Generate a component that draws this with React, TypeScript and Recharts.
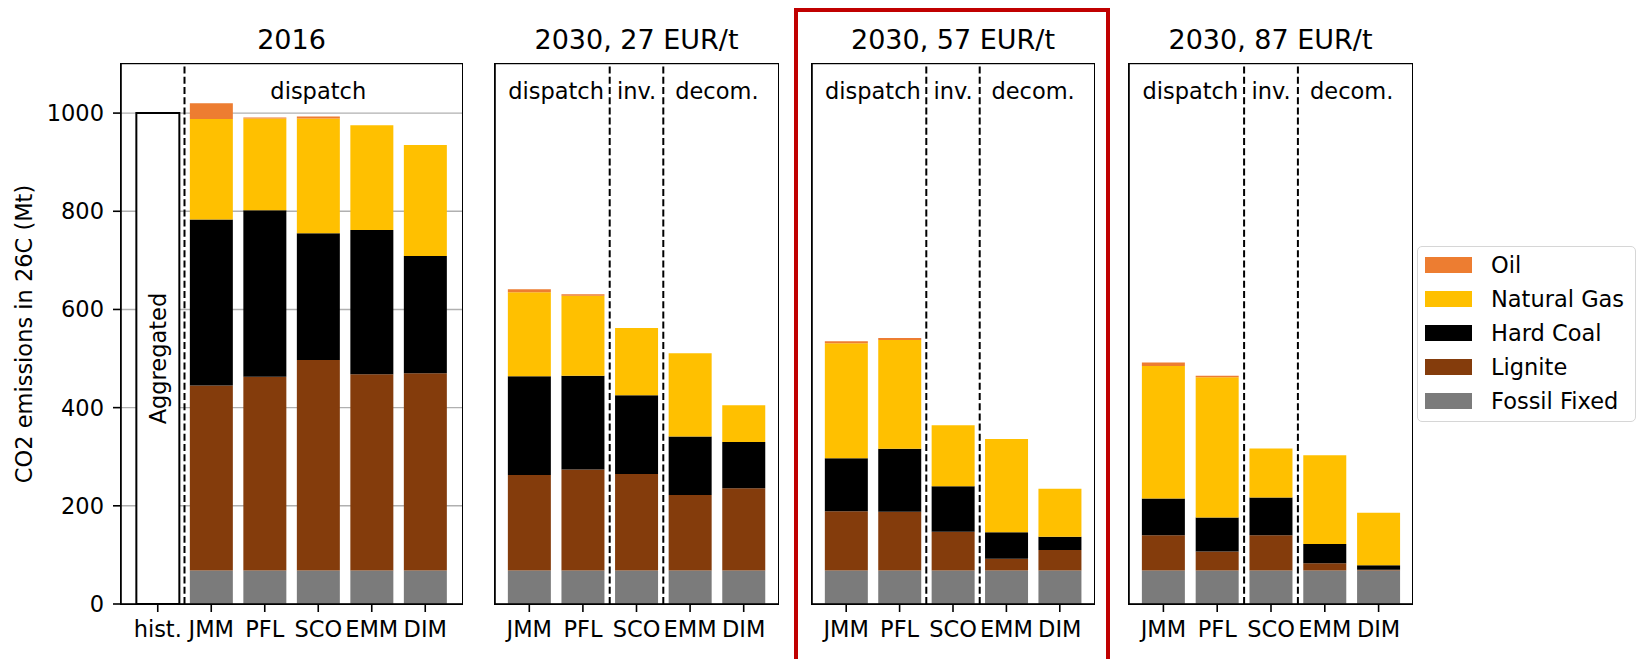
import React from 'react';
import { BarChart, Bar, XAxis, YAxis, CartesianGrid, ReferenceLine, ReferenceArea } from 'recharts';

// ---------- data ----------
const models = ['JMM', 'PFL', 'SCO', 'EMM', 'DIM'];
const histLabel = 'hist.';
const histTotal = 1000;
const histText = 'Aggregated';
const yTicks = [0, 200, 400, 600, 800, 1000];
const panelTitles = ['2016', '2030, 27 EUR/t', '2030, 57 EUR/t', '2030, 87 EUR/t'];
const groupLabels = ['dispatch', 'inv.', 'decom.'];
const yLabel = 'CO2 emissions in 26C (Mt)';

// 2016
const fixed2016 = [68, 68, 68, 68, 68];
const lignite2016 = [377, 395, 429, 400, 402];
const coal2016 = [338, 339, 258, 294, 239];
const gas2016 = [205, 187, 234, 213, 226];
const oil2016 = [32, 2, 4, 0, 0];

// 2030, 27 EUR/t
const fixed27 = [68, 68, 68, 68, 68];
const lignite27 = [195, 206, 197, 154, 168];
const coal27 = [201, 191, 160, 119, 94];
const gas27 = [171, 163, 137, 170, 75];
const oil27 = [6, 3, 0, 0, 0];

// 2030, 57 EUR/t
const fixed57 = [68, 68, 68, 68, 68];
const lignite57 = [121, 120, 79, 24, 42];
const coal57 = [108, 128, 93, 54, 27];
const gas57 = [234, 222, 124, 190, 98];
const oil57 = [4, 4, 0, 0, 0];

// 2030, 87 EUR/t
const fixed87 = [68, 68, 68, 68, 68];
const lignite87 = [72, 39, 72, 15, 2];
const coal87 = [75, 69, 77, 39, 9];
const gas87 = [270, 286, 100, 181, 107];
const oil87 = [7, 3, 0, 0, 0];

// series (bottom to top)
const seriesKeys = ['fixed', 'lignite', 'coal', 'gas', 'oil'];
const seriesNames = ['Fossil Fixed', 'Lignite', 'Hard Coal', 'Natural Gas', 'Oil'];
const seriesColors = ['#7b7b7b', '#843c0c', '#000000', '#ffc000', '#ed7d31'];

// ---------- styling ----------
const FONT = "'DejaVu Sans', sans-serif";
const FS = 22.5;
const LW = 1.6;
const H = 659;
const PLOT_TOP = 64;
const PLOT_BOTTOM = 604;

function buildRows(fixed: number[], lignite: number[], coal: number[], gas: number[], oil: number[]) {
  return models.map((m, i) => ({
    name: m,
    fixed: fixed[i],
    lignite: lignite[i],
    coal: coal[i],
    gas: gas[i],
    oil: oil[i],
  }));
}

const data2016 = [{ name: histLabel, hist: histTotal }, ...buildRows(fixed2016, lignite2016, coal2016, gas2016, oil2016)];
const data27 = buildRows(fixed27, lignite27, coal27, gas27, oil27);
const data57 = buildRows(fixed57, lignite57, coal57, gas57, oil57);
const data87 = buildRows(fixed87, lignite87, coal87, gas87, oil87);

type Group = { x1: string; x2: string; text: string };

const groups2016: Group[] = [{ x1: models[0], x2: models[4], text: groupLabels[0] }];
const groups2030: Group[] = [
  { x1: models[0], x2: models[1], text: groupLabels[0] },
  { x1: models[2], x2: models[2], text: groupLabels[1] },
  { x1: models[3], x2: models[4], text: groupLabels[2] },
];

const renderAggregated = (p: any) => {
  if (p.index !== 0 || p.height == null || p.height <= 0) return null;
  const cx = p.x + p.width / 2;
  const cy = p.y + p.height / 2;
  return (
    <text
      key="agg"
      x={cx}
      y={cy}
      transform={`rotate(-90 ${cx} ${cy})`}
      textAnchor="middle"
      dominantBaseline="central"
      fontSize={FS}
      fontFamily={FONT}
      fill="#000"
    >
      {histText}
    </text>
  );
};

type PanelProps = {
  data: any[];
  left: number;
  width: number;
  yAxisWidth: number;
  showYTicks: boolean;
  pad: number;
  groups: Group[];
  dividers: string[];
  withHist: boolean;
};

function Panel(p: PanelProps) {
  const axisLine = { stroke: '#000', strokeWidth: LW };
  return (
    <div style={{ position: 'absolute', left: p.left, top: 0 }}>
      <BarChart
        width={p.width}
        height={H}
        data={p.data}
        margin={{ top: PLOT_TOP, right: 3, bottom: 0, left: 0 }}
        barCategoryGap="10%"
      >
        <CartesianGrid horizontal vertical={false} stroke="#b0b0b0" strokeWidth={1.4} />
        <XAxis
          dataKey="name"
          interval={0}
          height={H - PLOT_BOTTOM}
          padding={{ left: p.pad, right: p.pad }}
          tickSize={8}
          tickMargin={9}
          tick={{ fontSize: FS, fill: '#000', fontFamily: FONT }}
          tickLine={{ stroke: '#000', strokeWidth: LW }}
          axisLine={axisLine}
        />
        <YAxis
          type="number"
          domain={[0, 1100]}
          ticks={yTicks}
          allowDataOverflow
          width={p.yAxisWidth}
          tickSize={8}
          tickMargin={9}
          tick={p.showYTicks ? { fontSize: FS, fill: '#000', fontFamily: FONT } : false}
          tickLine={{ stroke: '#000', strokeWidth: LW }}
          axisLine={axisLine}
        />
        {p.withHist && (
          <Bar
            dataKey="hist"
            stackId="s"
            fill="#ffffff"
            stroke="#000"
            strokeWidth={2}
            isAnimationActive={false}
            label={renderAggregated}
          />
        )}
        {seriesKeys.map((k, i) => (
          <Bar key={k} dataKey={k} name={seriesNames[i]} stackId="s" fill={seriesColors[i]} isAnimationActive={false} />
        ))}
        {p.dividers.map((d) => (
          <ReferenceLine
            key={'d' + d}
            x={d}
            position="start"
            stroke="#000"
            strokeWidth={2}
            strokeDasharray="7 3.2"
          />
        ))}
        {p.groups.map((g) => (
          <ReferenceArea
            key={'g' + g.text}
            x1={g.x1}
            x2={g.x2}
            y1={990}
            y2={1100}
            fill="none"
            fillOpacity={0}
            stroke="none"
            label={{ value: g.text, position: 'center', fill: '#000', fontSize: FS, fontFamily: FONT }}
          />
        ))}
      </BarChart>
    </div>
  );
}

const titleStyle = (center: number): React.CSSProperties => ({
  position: 'absolute',
  left: center - 200,
  width: 400,
  top: 26,
  textAlign: 'center',
  fontSize: 27,
  lineHeight: '27px',
  fontFamily: FONT,
  color: '#000',
  whiteSpace: 'nowrap',
});

const frameStyle = (l: number, r: number): React.CSSProperties => ({
  position: 'absolute',
  left: l - LW / 2,
  top: PLOT_TOP - LW / 2,
  width: r - l + LW,
  height: PLOT_BOTTOM - PLOT_TOP + LW,
  border: `${LW}px solid #000`,
  boxSizing: 'border-box',
  pointerEvents: 'none',
});

const legendOrder = [4, 3, 2, 1, 0];

export default function App() {
  const panels = [
    { data: data2016, left: 0, width: 121 + 341 + 3, yAxisWidth: 121, showYTicks: true, pad: 10, groups: groups2016, dividers: [models[0]], withHist: true, plotL: 121, plotR: 462 },
    { data: data27, left: 483, width: 12 + 283 + 3, yAxisWidth: 12, showYTicks: false, pad: 7.5, groups: groups2030, dividers: [models[2], models[3]], withHist: false, plotL: 495, plotR: 778 },
    { data: data57, left: 800, width: 12 + 282 + 3, yAxisWidth: 12, showYTicks: false, pad: 7.5, groups: groups2030, dividers: [models[2], models[3]], withHist: false, plotL: 812, plotR: 1094 },
    { data: data87, left: 1116.5, width: 12 + 284 + 3, yAxisWidth: 12, showYTicks: false, pad: 7.5, groups: groups2030, dividers: [models[2], models[3]], withHist: false, plotL: 1128.5, plotR: 1412.5 },
  ];
  return (
    <div
      style={{
        position: 'absolute',
        left: 0,
        top: 0,
        width: 1640,
        height: H,
        background: '#fff',
        overflow: 'hidden',
        fontFamily: FONT,
      }}
    >
      {panels.map((p, i) => (
        <React.Fragment key={i}>
          <Panel
            data={p.data}
            left={p.left}
            width={p.width}
            yAxisWidth={p.yAxisWidth}
            showYTicks={p.showYTicks}
            pad={p.pad}
            groups={p.groups}
            dividers={p.dividers}
            withHist={p.withHist}
          />
          <div style={frameStyle(p.plotL, p.plotR)} />
          <div style={titleStyle((p.plotL + p.plotR) / 2)}>{panelTitles[i]}</div>
        </React.Fragment>
      ))}

      {/* y-axis label */}
      <div
        style={{
          position: 'absolute',
          left: 24,
          top: 334,
          transform: 'translate(-50%, -50%) rotate(-90deg)',
          fontSize: FS,
          lineHeight: '24px',
          whiteSpace: 'nowrap',
          fontFamily: FONT,
          color: '#000',
        }}
      >
        {yLabel}
      </div>

      {/* highlight box */}
      <div
        style={{
          position: 'absolute',
          left: 794,
          top: 8,
          width: 316,
          height: 720,
          border: '4px solid #c00000',
          boxSizing: 'border-box',
          pointerEvents: 'none',
        }}
      />

      {/* legend */}
      <div
        style={{
          position: 'absolute',
          left: 1417,
          top: 246,
          width: 219,
          height: 176,
          border: '1.5px solid #d6d6d6',
          borderRadius: 5,
          background: '#fff',
          boxSizing: 'border-box',
        }}
      >
        {legendOrder.map((si, r) => (
          <React.Fragment key={si}>
            <div
              style={{
                position: 'absolute',
                left: 7,
                top: 18 + r * 34 - 8,
                width: 47,
                height: 16,
                background: seriesColors[si],
              }}
            />
            <div
              style={{
                position: 'absolute',
                left: 73,
                top: 18 + r * 34 - 17,
                height: 34,
                lineHeight: '34px',
                fontSize: FS,
                fontFamily: FONT,
                color: '#000',
                whiteSpace: 'nowrap',
              }}
            >
              {seriesNames[si]}
            </div>
          </React.Fragment>
        ))}
      </div>
    </div>
  );
}
